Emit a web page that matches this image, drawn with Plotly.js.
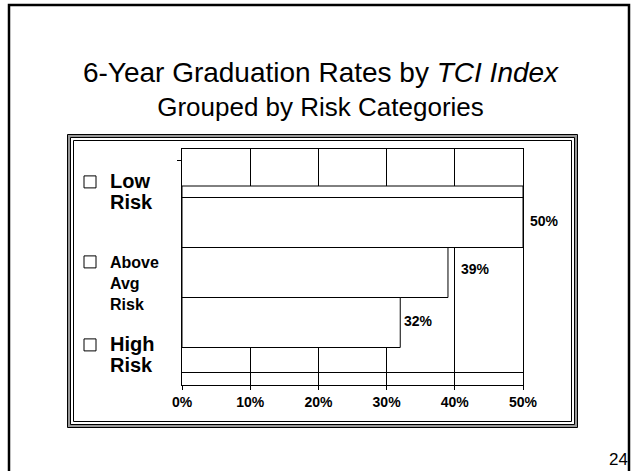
<!DOCTYPE html>
<html>
<head>
<meta charset="utf-8">
<script src="https://cdn.plot.ly/plotly-3.0.1.min.js"></script>
<style>html,body{margin:0;padding:0;background:#fff}#chart{width:641px;height:471px}</style>
</head>
<body>
<div id="chart"></div>
<script>
// ---- data ----
var categories = ["Low Risk", "Above Avg Risk", "High Risk"];
var legendLabels = ["<span style='font-size:20px'><b>Low<br>Risk</b></span>",
                    "<b>Above<br>Avg<br>Risk</b>",
                    "<span style='font-size:20px'><b>High<br>Risk</b></span>"];
var gradRates = [50, 39, 32];
var xTicks = [0, 10, 20, 30, 40, 50];
var xTickLabels = ["0%", "10%", "20%", "30%", "40%", "50%"];

// ---- layout helpers (pixel -> paper) ----
var L = 182, R = 118, T = 149, B = 86, W = 641, H = 471;
var PW = W - L - R, PH = H - T - B;
function px(x) { return (x - L) / PW; }
function py(y) { return (H - B - y) / PH; }

var font = "Liberation Sans, Arial, sans-serif";
var legendNames = ["legend", "legend2", "legend3"];
var traces = categories.map(function (c, i) {
  return {
    type: "bar", orientation: "h",
    name: legendLabels[i],
    x: [gradRates[i]],
    y: [categories.length - i],
    width: 1,
    marker: { color: "#ffffff", line: { color: "#000000", width: 1 } },
    showlegend: true,
    legend: legendNames[i],
    hoverinfo: "skip"
  };
});

// value labels (offsets keep labels clear of gridlines, as in the original)
var labelXShift = [5, 11, 2];
var labelYShift = [2, 4, 2];
var labelAnns = categories.map(function (c, i) {
  return {
    xref: "x", yref: "y", x: gradRates[i], y: categories.length - i,
    xanchor: "left", yanchor: "middle", xshift: labelXShift[i], yshift: labelYShift[i],
    text: "<b>" + gradRates[i] + "%</b>", showarrow: false,
    font: { family: font, size: 14, color: "#000" }
  };
});

var legendTops = [165, 245, 328];
function leg(i) {
  return {
    x: px(70), xanchor: "left", y: py(legendTops[i]), yanchor: "top",
    bgcolor: "rgba(0,0,0,0)", borderwidth: 0, valign: "top",
    font: { family: font, size: 16, color: "#000" }
  };
}

var shapes = [
  // slide border
  { type: "rect", xref: "paper", yref: "paper", x0: px(9), x1: px(629), y0: py(5), y1: py(500),
    line: { color: "#000", width: 2.5 }, fillcolor: "rgba(0,0,0,0)", layer: "below" },
  // chart frame
  { type: "rect", xref: "paper", yref: "paper", x0: px(67.5), x1: px(577.5), y0: py(134.5), y1: py(427.5),
    line: { color: "#000", width: 1 }, fillcolor: "#999999", layer: "below" },
  { type: "rect", xref: "paper", yref: "paper", x0: px(70.5), x1: px(574.5), y0: py(137.5), y1: py(424.5),
    line: { color: "#000", width: 1 }, fillcolor: "#ffffff", layer: "below" },
  { type: "rect", xref: "paper", yref: "paper", x0: px(73.5), x1: px(571.5), y0: py(140.5), y1: py(421.5),
    line: { color: "#000", width: 1 }, fillcolor: "rgba(0,0,0,0)", layer: "below" },
  // top band above bars
  { type: "rect", xref: "x", yref: "y", x0: 0, x1: 50, y0: 3.5, y1: 3.73,
    line: { color: "#000", width: 1 }, fillcolor: "#ffffff", layer: "between" }
];

var layout = {
  width: W, height: H,
  margin: { l: L, r: R, t: T, b: B, pad: 0 },
  paper_bgcolor: "#ffffff", plot_bgcolor: "rgba(0,0,0,0)",
  barmode: "overlay",
  showlegend: true,
  title: {
    text: "<span style='font-size:28px'>6-Year Graduation Rates by <i>TCI Index</i></span><br>Grouped by Risk Categories",
    font: { family: font, size: 26, color: "#000" },
    x: 0.5, xanchor: "center", xref: "container",
    y: 1 - 82 / H, yanchor: "top", yref: "container"
  },
  xaxis: {
    range: [0, 50], tickvals: xTicks, ticktext: xTickLabels,
    showgrid: true, gridcolor: "#000", gridwidth: 1, zeroline: false,
    showline: true, linecolor: "#000", linewidth: 1, mirror: true,
    ticks: "outside", ticklen: 4, tickcolor: "#000",
    tickfont: { family: font, size: 14, color: "#000", weight: "bold" },
    fixedrange: true
  },
  yaxis: {
    range: [-0.25, 4.47],
    showgrid: false, zeroline: true, zerolinecolor: "#000", zerolinewidth: 1,
    showline: true, linecolor: "#000", linewidth: 1, mirror: true,
    tickvals: [4.25], ticks: "outside", ticklen: 4, tickcolor: "#000",
    showticklabels: false, fixedrange: true
  },
  legend: leg(0), legend2: leg(1), legend3: leg(2),
  shapes: shapes,
  annotations: labelAnns.concat([
    { xref: "paper", yref: "paper", x: px(630), y: py(459), xanchor: "right", yanchor: "middle",
      text: "24", showarrow: false, font: { family: font, size: 17, color: "#000" } }
  ])
};

Plotly.newPlot("chart", traces, layout, { staticPlot: true, displayModeBar: false });
</script>
</body>
</html>
